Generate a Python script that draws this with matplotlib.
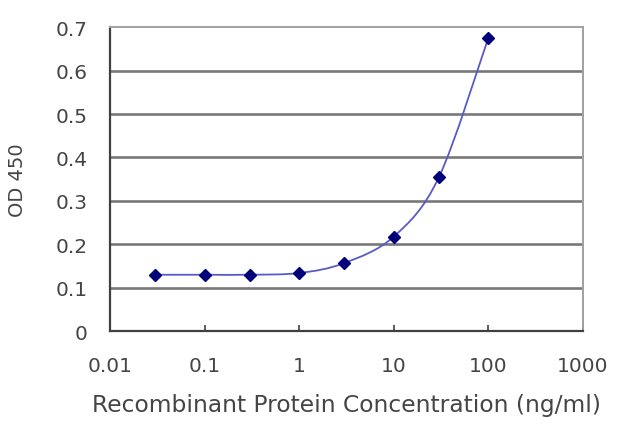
import matplotlib
matplotlib.use("Agg")
import matplotlib.pyplot as plt
import numpy as np
from matplotlib.path import Path
from matplotlib.patches import PathPatch
from matplotlib.ticker import FixedLocator, FixedFormatter, NullLocator

# data
concentration = [0.03, 0.1, 0.3, 1, 3, 10, 30, 100]
od450 = [0.130, 0.130, 0.130, 0.134, 0.157, 0.218, 0.355, 0.676]

x_ticks = [0.01, 0.1, 1, 10, 100, 1000]
x_tick_labels = ['0.01', '0.1', '1', '10', '100', '1000']
y_ticks = [0, 0.1, 0.2, 0.3, 0.4, 0.5, 0.6, 0.7]
y_tick_labels = ['0', '0.1', '0.2', '0.3', '0.4', '0.5', '0.6', '0.7']

plt.rcParams['font.family'] = ['DejaVu Sans']
text_color = '#454545'


def smoothPath(xs, ys):
    # Catmull-Rom style bezier through the points, in log-x space (like an Excel smoothed line)
    u = np.log10(xs)
    v = np.array(ys, dtype=float)
    n = len(u)
    verts = [(xs[0], ys[0])]
    codes = [Path.MOVETO]
    for i in range(n - 1):
        i0 = max(i - 1, 0)
        i3 = min(i + 2, n - 1)
        c1u = u[i] + (u[i + 1] - u[i0]) / 6.0
        c1v = v[i] + (v[i + 1] - v[i0]) / 6.0
        c2u = u[i + 1] - (u[i3] - u[i]) / 6.0
        c2v = v[i + 1] - (v[i3] - v[i]) / 6.0
        verts += [(10 ** c1u, c1v), (10 ** c2u, c2v), (xs[i + 1], ys[i + 1])]
        codes += [Path.CURVE4, Path.CURVE4, Path.CURVE4]
    return Path(verts, codes)


fig = plt.figure(figsize=(6.4, 4.27), dpi=100)
ax = fig.add_axes([0.172, 0.222, 0.739, 0.712])
ax.set_xscale('log')
ax.set_xlim(0.01, 1000)
ax.set_ylim(0, 0.7)

for yv in y_ticks[1:-1]:
    ax.axhline(yv, color='#787878', linewidth=1.9, zorder=1)

# smooth curve drawn through the data points
patch = PathPatch(smoothPath(concentration, od450), facecolor='none',
                  edgecolor='#5a5ac6', linewidth=1.3, zorder=2)
ax.add_patch(patch)
ax.plot(concentration, od450, linestyle='none', marker='D', markersize=6.6,
        color='#00007a', zorder=3)

ax.xaxis.set_major_locator(FixedLocator(x_ticks))
ax.xaxis.set_major_formatter(FixedFormatter(x_tick_labels))
ax.xaxis.set_minor_locator(NullLocator())
ax.yaxis.set_major_locator(FixedLocator(y_ticks))
ax.yaxis.set_major_formatter(FixedFormatter(y_tick_labels))

ax.tick_params(axis='x', direction='in', length=4, width=1.2, color='#404040',
               labelsize=14.5, labelcolor=text_color, pad=18)
ax.tick_params(axis='y', length=0, labelsize=14.5, labelcolor=text_color, pad=16)

for side in ['left', 'bottom']:
    ax.spines[side].set_color('#404040')
    ax.spines[side].set_linewidth(1.6)
for side in ['top', 'right']:
    ax.spines[side].set_color('#a0a0a0')
    ax.spines[side].set_linewidth(1.4)

ax.set_xlabel('Recombinant Protein Concentration (ng/ml)', fontsize=16.8,
              color=text_color, labelpad=13)
ax.set_ylabel('OD 450', fontsize=14, color=text_color)
ax.yaxis.set_label_coords(-0.175, 0.5)

fig.savefig('out.png', dpi=100)
